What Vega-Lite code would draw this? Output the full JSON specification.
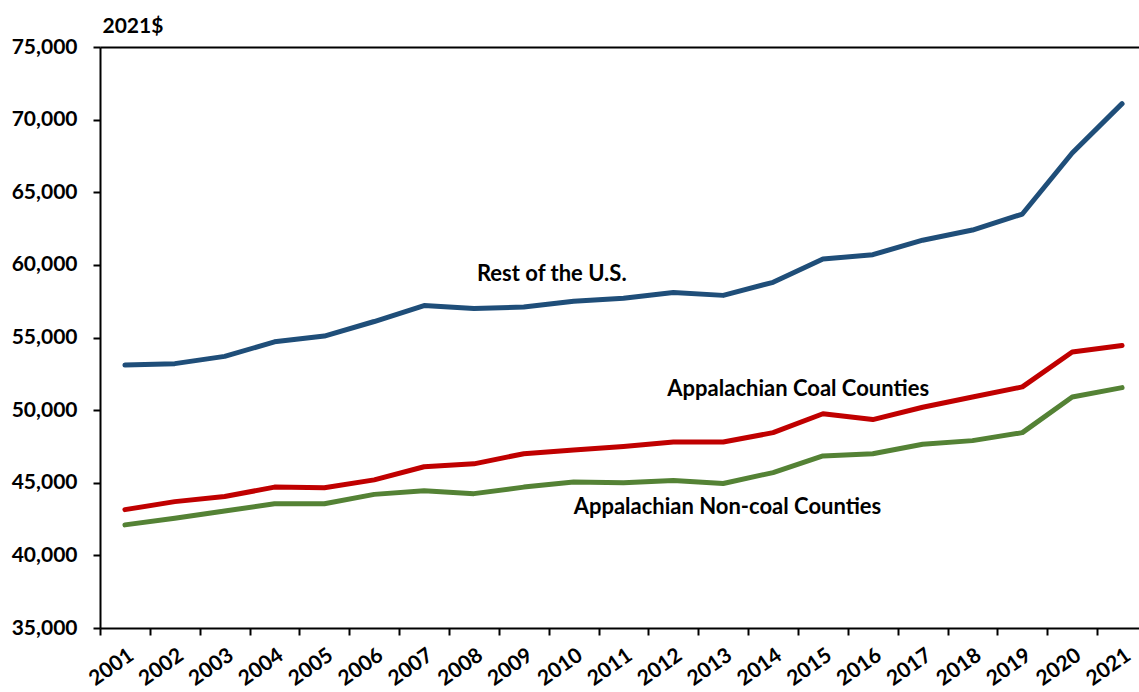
{
  "$schema": "https://vega.github.io/schema/vega-lite/v6.json",
  "width": 1039,
  "height": 581,
  "autosize": {"type": "none"},
  "padding": {"left": 100, "top": 47, "right": 0, "bottom": 64},
  "background": "white",
  "config": {"view": {"stroke": null}, "font": "Lato"},
  "datasets": {
    "series": [
      {"year": "2001", "series": "Rest of the U.S.", "value": 53100},
      {"year": "2002", "series": "Rest of the U.S.", "value": 53200},
      {"year": "2003", "series": "Rest of the U.S.", "value": 53700},
      {"year": "2004", "series": "Rest of the U.S.", "value": 54700},
      {"year": "2005", "series": "Rest of the U.S.", "value": 55100},
      {"year": "2006", "series": "Rest of the U.S.", "value": 56100},
      {"year": "2007", "series": "Rest of the U.S.", "value": 57200},
      {"year": "2008", "series": "Rest of the U.S.", "value": 57000},
      {"year": "2009", "series": "Rest of the U.S.", "value": 57100},
      {"year": "2010", "series": "Rest of the U.S.", "value": 57500},
      {"year": "2011", "series": "Rest of the U.S.", "value": 57700},
      {"year": "2012", "series": "Rest of the U.S.", "value": 58100},
      {"year": "2013", "series": "Rest of the U.S.", "value": 57900},
      {"year": "2014", "series": "Rest of the U.S.", "value": 58800},
      {"year": "2015", "series": "Rest of the U.S.", "value": 60400},
      {"year": "2016", "series": "Rest of the U.S.", "value": 60700},
      {"year": "2017", "series": "Rest of the U.S.", "value": 61700},
      {"year": "2018", "series": "Rest of the U.S.", "value": 62400},
      {"year": "2019", "series": "Rest of the U.S.", "value": 63500},
      {"year": "2020", "series": "Rest of the U.S.", "value": 67700},
      {"year": "2021", "series": "Rest of the U.S.", "value": 71100},
      {"year": "2001", "series": "Appalachian Coal Counties", "value": 43150},
      {"year": "2002", "series": "Appalachian Coal Counties", "value": 43700},
      {"year": "2003", "series": "Appalachian Coal Counties", "value": 44050},
      {"year": "2004", "series": "Appalachian Coal Counties", "value": 44700},
      {"year": "2005", "series": "Appalachian Coal Counties", "value": 44650},
      {"year": "2006", "series": "Appalachian Coal Counties", "value": 45200},
      {"year": "2007", "series": "Appalachian Coal Counties", "value": 46100},
      {"year": "2008", "series": "Appalachian Coal Counties", "value": 46300},
      {"year": "2009", "series": "Appalachian Coal Counties", "value": 47000},
      {"year": "2010", "series": "Appalachian Coal Counties", "value": 47250},
      {"year": "2011", "series": "Appalachian Coal Counties", "value": 47500},
      {"year": "2012", "series": "Appalachian Coal Counties", "value": 47800},
      {"year": "2013", "series": "Appalachian Coal Counties", "value": 47800},
      {"year": "2014", "series": "Appalachian Coal Counties", "value": 48450},
      {"year": "2015", "series": "Appalachian Coal Counties", "value": 49750},
      {"year": "2016", "series": "Appalachian Coal Counties", "value": 49350},
      {"year": "2017", "series": "Appalachian Coal Counties", "value": 50200},
      {"year": "2018", "series": "Appalachian Coal Counties", "value": 50900},
      {"year": "2019", "series": "Appalachian Coal Counties", "value": 51600},
      {"year": "2020", "series": "Appalachian Coal Counties", "value": 54000},
      {"year": "2021", "series": "Appalachian Coal Counties", "value": 54450},
      {"year": "2001", "series": "Appalachian Non-coal Counties", "value": 42100},
      {"year": "2002", "series": "Appalachian Non-coal Counties", "value": 42550},
      {"year": "2003", "series": "Appalachian Non-coal Counties", "value": 43050},
      {"year": "2004", "series": "Appalachian Non-coal Counties", "value": 43550},
      {"year": "2005", "series": "Appalachian Non-coal Counties", "value": 43550},
      {"year": "2006", "series": "Appalachian Non-coal Counties", "value": 44200},
      {"year": "2007", "series": "Appalachian Non-coal Counties", "value": 44450},
      {"year": "2008", "series": "Appalachian Non-coal Counties", "value": 44250},
      {"year": "2009", "series": "Appalachian Non-coal Counties", "value": 44700},
      {"year": "2010", "series": "Appalachian Non-coal Counties", "value": 45050},
      {"year": "2011", "series": "Appalachian Non-coal Counties", "value": 45000},
      {"year": "2012", "series": "Appalachian Non-coal Counties", "value": 45150},
      {"year": "2013", "series": "Appalachian Non-coal Counties", "value": 44950},
      {"year": "2014", "series": "Appalachian Non-coal Counties", "value": 45700},
      {"year": "2015", "series": "Appalachian Non-coal Counties", "value": 46850},
      {"year": "2016", "series": "Appalachian Non-coal Counties", "value": 47000},
      {"year": "2017", "series": "Appalachian Non-coal Counties", "value": 47650},
      {"year": "2018", "series": "Appalachian Non-coal Counties", "value": 47900},
      {"year": "2019", "series": "Appalachian Non-coal Counties", "value": 48450},
      {"year": "2020", "series": "Appalachian Non-coal Counties", "value": 50900},
      {"year": "2021", "series": "Appalachian Non-coal Counties", "value": 51550}
    ],
    "labels": [
      {"label": "Rest of the U.S.", "year": "2008", "value": 59400},
      {"label": "Appalachian Coal Counties", "year": "2012", "value": 51450},
      {"label": "Appalachian Non-coal Counties", "year": "2010", "value": 43350}
    ]
  },
  "layer": [
    {
      "data": {"name": "series"},
      "mark": {"type": "line", "strokeWidth": 5, "strokeCap": "round", "strokeJoin": "round"},
      "encoding": {
        "x": {
          "field": "year",
          "type": "ordinal",
          "scale": {"type": "band", "range": [0, 1047], "paddingInner": 0, "paddingOuter": 0},
          "axis": {
            "title": null,
            "tickBand": "extent",
            "labelAngle": -35,
            "labelFont": "Lato",
            "labelFontSize": 21,
            "labelFontWeight": "bold",
            "labelColor": "black",
            "labelPadding": 9,
            "labelOverlap": false,
            "domainColor": "black",
            "domainWidth": 2,
            "tickColor": "black",
            "tickWidth": 2,
            "tickSize": 7
          }
        },
        "y": {
          "field": "value",
          "type": "quantitative",
          "scale": {"domain": [35000, 75000], "nice": false, "zero": false},
          "axis": {
            "values": [35000, 40000, 45000, 50000, 55000, 60000, 65000, 70000, 75000],
            "format": ",.0f",
            "grid": true,
            "gridColor": "black",
            "gridWidth": 2,
            "gridOpacity": {"condition": {"test": "datum.value == 75000", "value": 1}, "value": 0},
            "title": "2021$",
            "titleAngle": 0,
            "titleAlign": "left",
            "titleBaseline": "alphabetic",
            "titleX": 2,
            "titleY": -15,
            "titleFont": "Lato",
            "titleFontSize": 21,
            "titleFontWeight": "bold",
            "titleColor": "black",
            "labelFont": "Lato",
            "labelFontSize": 21,
            "labelFontWeight": "bold",
            "labelColor": "black",
            "labelPadding": 16,
            "domainColor": "black",
            "domainWidth": 2,
            "tickColor": "black",
            "tickWidth": 2,
            "tickSize": 7
          }
        },
        "color": {
          "field": "series",
          "type": "nominal",
          "scale": {
            "domain": ["Rest of the U.S.", "Appalachian Coal Counties", "Appalachian Non-coal Counties"],
            "range": ["#1F4E79", "#C00000", "#548235"]
          },
          "legend": null
        }
      }
    },
    {
      "data": {"name": "labels"},
      "transform": [{"filter": "datum.label == 'Rest of the U.S.'"}],
      "mark": {"type": "text", "align": "left", "baseline": "middle", "dx": 3, "font": "Lato", "fontSize": 22, "fontWeight": "bold", "color": "black"},
      "encoding": {
        "x": {"field": "year", "type": "ordinal"},
        "y": {"field": "value", "type": "quantitative"},
        "text": {"field": "label"}
      }
    },
    {
      "data": {"name": "labels"},
      "transform": [{"filter": "datum.label == 'Appalachian Coal Counties'"}],
      "mark": {"type": "text", "align": "left", "baseline": "middle", "dx": -6, "font": "Lato", "fontSize": 22, "fontWeight": "bold", "color": "black"},
      "encoding": {
        "x": {"field": "year", "type": "ordinal"},
        "y": {"field": "value", "type": "quantitative"},
        "text": {"field": "label"}
      }
    },
    {
      "data": {"name": "labels"},
      "transform": [{"filter": "datum.label == 'Appalachian Non-coal Counties'"}],
      "mark": {"type": "text", "align": "left", "baseline": "middle", "dx": 0, "font": "Lato", "fontSize": 22, "fontWeight": "bold", "color": "black"},
      "encoding": {
        "x": {"field": "year", "type": "ordinal"},
        "y": {"field": "value", "type": "quantitative"},
        "text": {"field": "label"}
      }
    }
  ]
}
